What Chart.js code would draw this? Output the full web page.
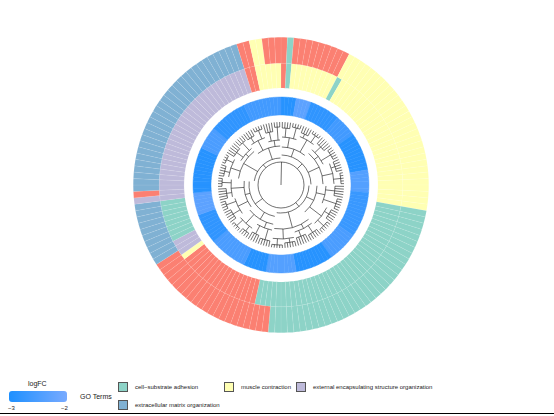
<!DOCTYPE html>
<html><head><meta charset="utf-8">
<script src="https://cdn.jsdelivr.net/npm/chart.js@4"></script>
<style>
body{margin:0;background:#fff;font-family:"Liberation Sans",Arial,sans-serif;width:554px;height:416px;overflow:hidden;position:relative}
#wrap{position:absolute;left:0;top:0;width:554px;height:370px}
.t{position:absolute;font-size:6px;color:#222;white-space:nowrap}
.sw{position:absolute;width:10px;height:10px;border:1px solid #555;box-sizing:border-box}
</style></head><body>
<div id="wrap"><canvas id="c" width="554" height="370"></canvas></div>
<div style="position:absolute;left:0;top:413px;width:554px;height:1px;background:#000"></div>
<div class="t" style="left:28px;top:380px;font-size:7px">logFC</div>
<div style="position:absolute;left:9px;top:391px;width:58px;height:11px;border-radius:3px;background:linear-gradient(90deg,#1e90ff,#78aaff)"></div>
<div class="t" style="left:8px;top:405px">−3</div>
<div class="t" style="left:61px;top:405px">−2</div>
<div class="t" style="left:80px;top:393px;font-size:7px">GO Terms</div>
<div class="sw" style="left:118px;top:382px;background:#8DD3C7"></div>
<div class="t" style="left:135px;top:384px">cell−substrate adhesion</div>
<div class="sw" style="left:118px;top:400px;background:#80B1D3"></div>
<div class="t" style="left:135px;top:402px">extracellular matrix organization</div>
<div class="sw" style="left:224px;top:382px;background:#FFFFB3"></div>
<div class="t" style="left:241px;top:384px">muscle contraction</div>
<div class="sw" style="left:296px;top:382px;background:#BEBADA"></div>
<div class="t" style="left:313px;top:384px">external encapsulating structure organization</div>
<script>
// GO term runs: [gene count, inner track term, outer track term]
const termRuns=[[1,'R','R'],[1,'T','T'],[9,'Y','R'],[1,'T','Y'],[28,'Y','Y'],[34,'T','T'],[3,'T','R'],[16,'R','R'],[1,'Y','R'],[1,'P','R'],[2,'P','B'],[8,'T','B'],[1,'P','P'],[1,'P','R'],[30,'P','B'],[2,'R','R'],[2,'Y','Y'],[3,'Y','R']];
const termColors={T:'#8DD3C7',Y:'#FFFFB3',P:'#BEBADA',B:'#80B1D3',R:'#FB8072'};
// logFC runs: [gene count, logFC]
const fcRuns=[[4,-2.9],[4,-2.3],[8,-2.8],[6,-2.6],[10,-2.9],[6,-2.4],[12,-2.7],[8,-2.5],[10,-2.9],[8,-2.4],[6,-2.9],[10,-2.5],[8,-2.8],[6,-2.3],[12,-2.9],[6,-2.5],[10,-2.8],[10,-2.6]];
// dendrogram clusters: [startGene, endGene, radius]
const clusters=[[0,35,30],[36,75,28],[76,110,32],[111,143,27],
[0,15,38],[16,35,42],[36,55,36],[56,75,44],[76,92,40],[93,110,37],[111,128,43],[129,143,39],
[0,7,48],[8,15,52],[16,25,47],[26,35,53],[36,45,45],[46,55,51],[56,65,49],[66,75,54],[76,84,46],[85,92,52],[93,101,48],[102,110,50],[111,119,53],[120,128,47],[129,136,50],[137,143,45],
[0,3,57],[4,7,59],[8,11,56],[12,15,60],[16,20,55],[21,25,58],[26,30,57],[31,35,60],[36,40,54],[41,45,58],[46,50,56],[51,55,59],[56,60,57],[61,65,55],[66,70,58],[71,75,60],[76,80,57],[81,84,55],[85,88,58],[89,92,60],[93,97,56],[98,101,58],[102,106,55],[107,110,59],[111,115,58],[116,119,60],[120,124,55],[125,128,57],[129,132,56],[133,136,59],[137,140,54],[141,143,58]];

const inner=[],outer=[],fc=[];
termRuns.forEach(([n,a,b])=>{for(let i=0;i<n;i++){inner.push(termColors[a]);outer.push(termColors[b]);}});
fcRuns.forEach(([n,v])=>{for(let i=0;i<n;i++)fc.push(v);});
const N=inner.length;
function fcColor(v){const t=(v+3);const c0=[30,144,255],c1=[120,170,255];return `rgb(${c0.map((x,i)=>Math.round(x+(c1[i]-x)*t)).join(',')})`;}
const ones=new Array(N).fill(1);
const dendro={id:'dendro',afterDatasetsDraw(ch){
 const m=ch.getDatasetMeta(0).data[0];const cx=m.x,cy=m.y,ctx=ch.ctx;
 const ang=i=>-Math.PI/2+(i+0.5)*2*Math.PI/N;
 ctx.save();ctx.strokeStyle='#111';ctx.lineWidth=0.6;
 ctx.beginPath();ctx.arc(cx,cy,23,0,2*Math.PI);ctx.stroke();
 ctx.beginPath();ctx.moveTo(cx,cy);ctx.lineTo(cx+23*Math.cos(ang(0)),cy+23*Math.sin(ang(0)));ctx.stroke();
 const parentR=(s,e,r)=>{let best=23;clusters.forEach(c=>{if(c[0]<=s&&c[1]>=e&&c[2]<r&&c[2]>best)best=c[2];});return best;};
 clusters.forEach(([s,e,r])=>{
  ctx.beginPath();ctx.arc(cx,cy,r,ang(s),ang(e));ctx.stroke();
  const a=(ang(s)+ang(e))/2,pr=parentR(s,e,r);
  ctx.beginPath();ctx.moveTo(cx+pr*Math.cos(a),cy+pr*Math.sin(a));ctx.lineTo(cx+r*Math.cos(a),cy+r*Math.sin(a));ctx.stroke();
 });
 for(let i=0;i<N;i++){const r0=parentR(i,i,66),a=ang(i);
  ctx.beginPath();ctx.moveTo(cx+r0*Math.cos(a),cy+r0*Math.sin(a));ctx.lineTo(cx+63*Math.cos(a),cy+63*Math.sin(a));ctx.stroke();}
 ctx.restore();}};
new Chart(document.getElementById('c'),{type:'doughnut',
 data:{labels:ones.map((_,i)=>'g'+i),datasets:[
  {data:ones,backgroundColor:outer,borderColor:'rgba(255,255,255,0.15)',borderWidth:0.5,weight:26},
  {data:ones,backgroundColor:inner,borderColor:'rgba(255,255,255,0.15)',borderWidth:0.5,weight:25},
  {data:ones,backgroundColor:'rgba(0,0,0,0)',borderWidth:0,weight:9},
  {data:ones,backgroundColor:fc.map(fcColor),borderColor:fc.map(fcColor),borderWidth:0.5,weight:18}]},
 options:{responsive:false,animation:false,cutout:70,layout:{padding:{left:133,right:125,top:37,bottom:37}},
  plugins:{legend:{display:false},tooltip:{enabled:false}}},
 plugins:[dendro]});
</script></body></html>
